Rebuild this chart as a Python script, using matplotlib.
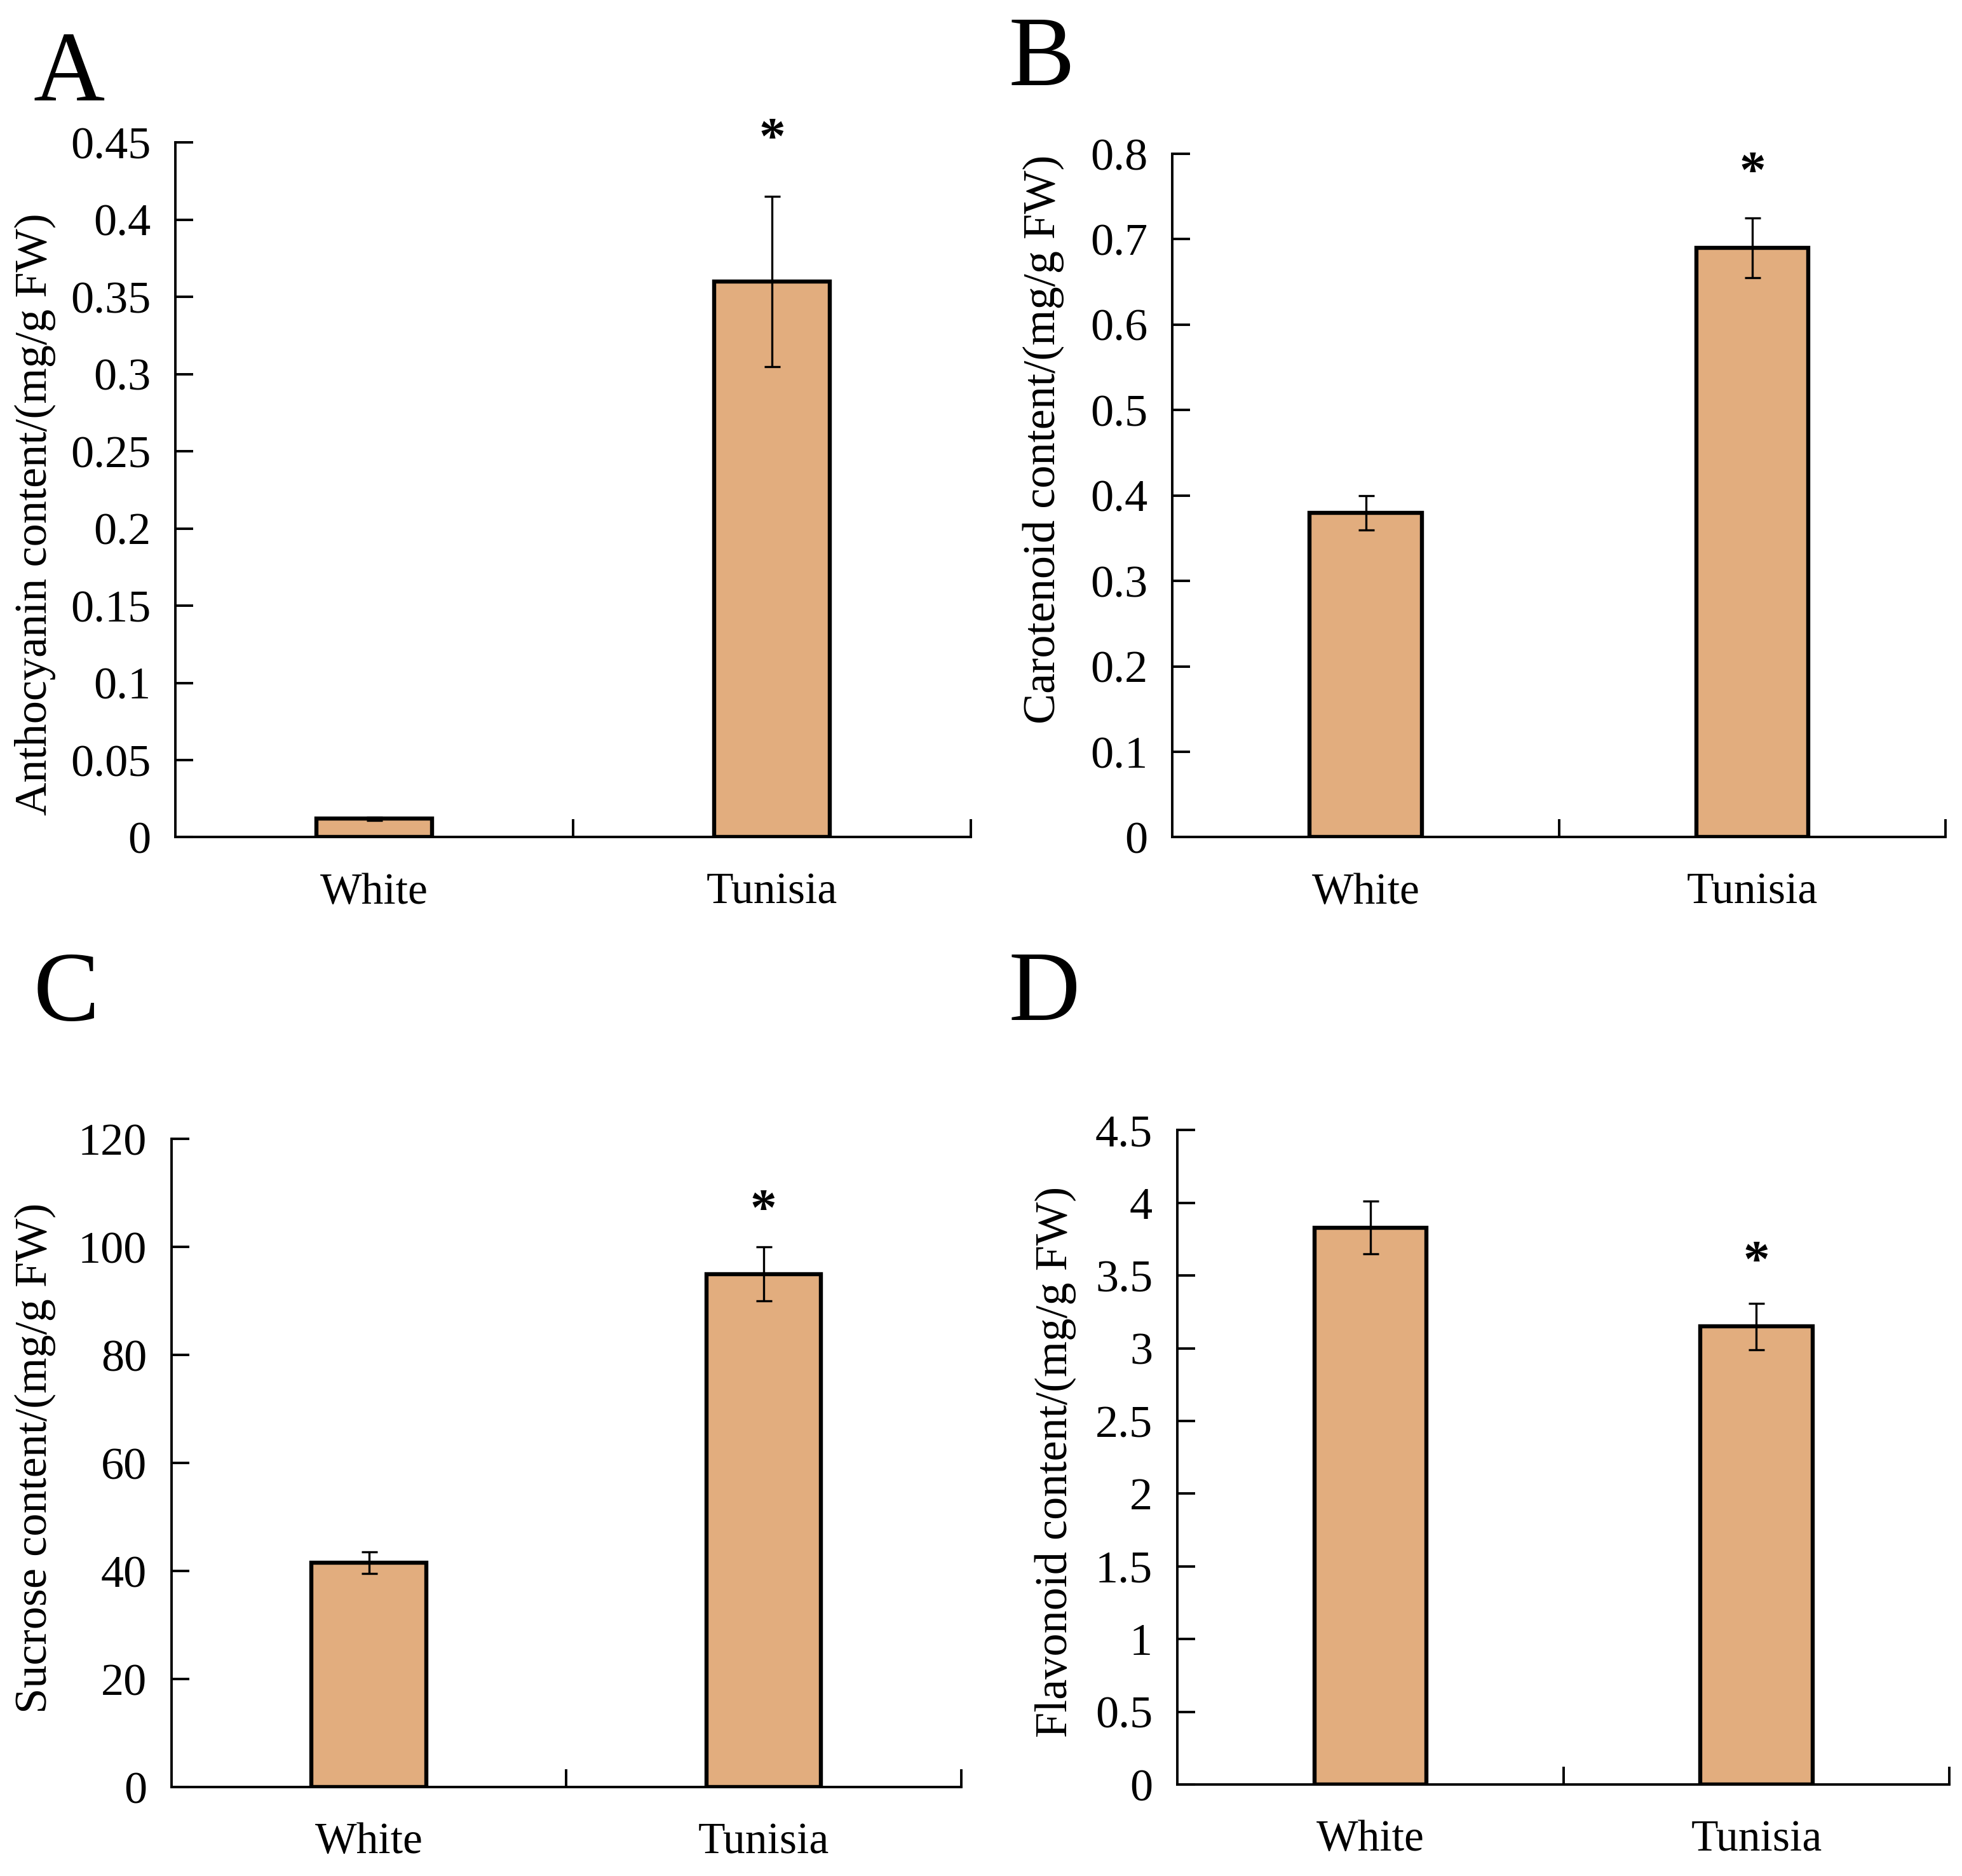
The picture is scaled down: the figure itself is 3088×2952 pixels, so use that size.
import numpy as np
import matplotlib
matplotlib.use("Agg")
import matplotlib.pyplot as plt
from matplotlib.ticker import FuncFormatter

plt.rcParams['font.family'] = ['Liberation Serif', 'DejaVu Serif']

# data
groups = ['White', 'Tunisia']
anthocyanin = [0.012, 0.360]
anthocyanin_err = [0.001, 0.055]
carotenoid = [0.380, 0.690]
carotenoid_err = [0.020, 0.035]
sucrose = [41.5, 95.0]
sucrose_err = [2.0, 5.0]
flavonoid = [3.83, 3.15]
flavonoid_err = [0.18, 0.16]

star_y = {'A': 0.451, 'B': 0.776, 'C': 106.4, 'D': 3.58}

BAR_COLOR = '#E2AD7E'

fig = plt.figure(figsize=(15.44, 14.76), dpi=200)

panels = [
    ('A', [0.0894, 0.5537, 0.4055, 0.3703], anthocyanin, anthocyanin_err,
     np.arange(0, 0.451, 0.05), 'Anthocyanin content/(mg/g FW)', (-0.150, 0.465), (0.017, 0.9466)),
    ('B', [0.5976, 0.5537, 0.3941, 0.3643], carotenoid, carotenoid_err,
     np.arange(0, 0.81, 0.1), 'Carotenoid content/(mg/g FW)', (-0.140, 0.582), (0.514, 0.9546)),
    ('C', [0.0874, 0.0474, 0.4024, 0.3455], sucrose, sucrose_err,
     np.arange(0, 121, 20), 'Sucrose content/(mg/g FW)', (-0.146, 0.508), (0.017, 0.4563)),
    ('D', [0.6001, 0.0487, 0.3935, 0.3489], flavonoid, flavonoid_err,
     np.arange(0, 4.51, 0.5), 'Flavonoid content/(mg/g FW)', (-0.131, 0.493), (0.514, 0.4563)),
]

for letter, rect, vals, errs, yticks, ylabel, lab_xy, let_xy in panels:
    ax = fig.add_axes(rect)
    x = np.arange(len(groups))
    ax.bar(x, vals, width=0.29, color=BAR_COLOR, edgecolor='black', linewidth=2.3, zorder=2)
    ax.errorbar(x, vals, yerr=errs, fmt='none', ecolor='black', elinewidth=1.2,
                capsize=4.5, capthick=1.2, zorder=3)
    ax.text(1, star_y[letter], '*', ha='center', va='center', fontsize=30,
            fontweight='bold', clip_on=False)

    ax.set_xlim(-0.5, 1.5)
    ax.set_ylim(yticks[0], yticks[-1])
    ax.set_yticks(yticks)
    ax.yaxis.set_major_formatter(FuncFormatter(lambda v, p: '{:g}'.format(round(v, 4))))

    ax.set_xticks([0.5, 1.5])
    ax.set_xticklabels(['', ''])
    ax.set_xticks(x, minor=True)
    ax.set_xticklabels(groups, minor=True)
    ax.tick_params(axis='x', which='major', direction='in', length=10, width=1.4)
    ax.tick_params(axis='x', which='minor', length=0, pad=20, labelsize=25)
    ax.tick_params(axis='y', direction='in', length=10, width=1.4, pad=14, labelsize=26)

    for s in ['top', 'right']:
        ax.spines[s].set_visible(False)
    for s in ['left', 'bottom']:
        ax.spines[s].set_linewidth(1.4)

    ax.set_ylabel(ylabel, fontsize=26)
    ax.yaxis.set_label_coords(*lab_xy)

    fig.text(let_xy[0], let_xy[1], letter, fontsize=56, ha='left', va='baseline')

fig.savefig('out.png', dpi=200)
